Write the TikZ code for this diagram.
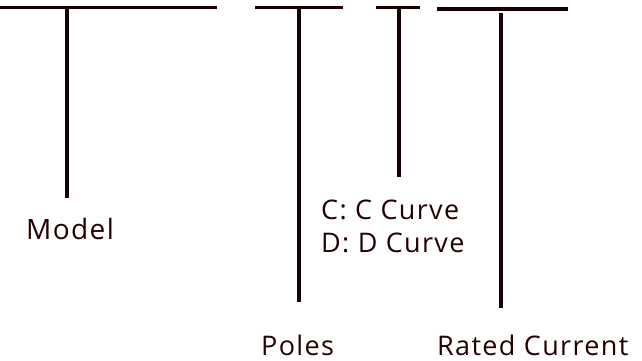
\documentclass[tikz,border=0pt]{standalone}
\usepackage{fontspec}
\setmainfont{Open Sans}[LetterSpace=5]
\begin{document}
\begin{tikzpicture}[x=1pt,y=-1pt,
  bar/.style={line width=3.6pt,color=black!90!red},
  stem/.style={line width=3.2pt,color=black!90!red},
  lbl/.style={anchor=base west,inner sep=0pt,font=\fontsize{27}{32}\selectfont,text=black!85!red}]
\useasboundingbox (0,0) rectangle (642,361);
% bars
\coordinate (b1l) at (0,7.7);   \coordinate (b1r) at (217,7.7);
\coordinate (b2l) at (255,7.7); \coordinate (b2r) at (343,7.7);
\coordinate (b3l) at (376,7.7); \coordinate (b3r) at (420,7.7);
\coordinate (b4l) at (437,9);   \coordinate (b4r) at (568,9);
\draw[bar] (b1l) -- (b1r);
\draw[bar] (b2l) -- (b2r);
\draw[bar] (b3l) -- (b3r);
\draw[bar] (b4l) -- (b4r);
% stems
\coordinate (s1t) at (67,8);  \coordinate (s1b) at (67,198);
\coordinate (s2t) at (299,8); \coordinate (s2b) at (299,302);
\coordinate (s3t) at (399,8); \coordinate (s3b) at (399,177);
\coordinate (s4t) at (501,13); \coordinate (s4b) at (501,308);
\draw[stem] (s1t) -- (s1b);
\draw[stem] (s2t) -- (s2b);
\draw[stem] (s3t) -- (s3b);
\draw[stem] (s4t) -- (s4b);
% labels
\node[lbl,font=\fontsize{28}{33}\selectfont] (model) at (26,239) {Model};
\node[lbl] (curveC) at (321,219) {C: C Curve};
\node[lbl] (curveD) at (321,252) {D: D Curve};
\node[lbl] (poles) at (261,355) {Poles};
\node[lbl] (rated) at (437,355) {Rated Current};
\end{tikzpicture}
\end{document}
